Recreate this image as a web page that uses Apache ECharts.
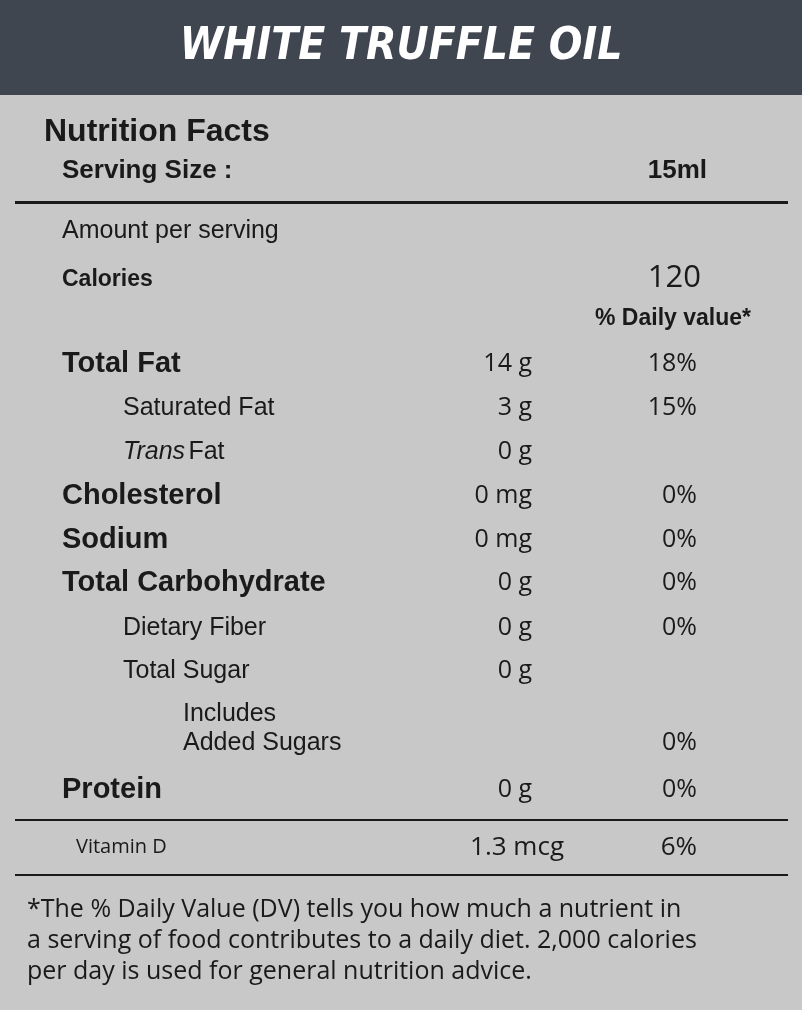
<!DOCTYPE html>
<html><head><meta charset="utf-8">
<script src="https://cdn.jsdelivr.net/npm/echarts@6/dist/echarts.min.js"></script>
<style>html,body{margin:0;padding:0;background:#c8c8c8}#c{width:802px;height:1010px}</style>
</head><body><div id="c"></div>
<script>
const title = "WHITE TRUFFLE OIL";
const servingSize = "15ml";
const calories = "120";
const nutrients = ["Total Fat","Saturated Fat","Trans Fat","Cholesterol","Sodium","Total Carbohydrate","Dietary Fiber","Total Sugar","Includes\nAdded Sugars","Protein"];
const amounts = ["14 g","3 g","0 g","0 mg","0 mg","0 g","0 g","0 g","","0 g"];
const dailyValues = ["18%","15%","","0%","0%","0%","0%","","0%","0%"];
const levels = [0,1,1,0,0,0,1,1,2,0];
const rowY = [364,408,452,496,540,583,628,671,729,790];
const vitamin = ["Vitamin D","1.3 mcg","6%"];
const footnote = ["*The % Daily Value (DV) tells you how much a nutrient in","a serving of food contributes to a daily diet. 2,000 calories","per day is used for general nutrition advice."];

const F = "'Liberation Sans', Arial, sans-serif";
const O = "'Open Sans', sans-serif";
const g = [];
function t(x,y,text,size,weight,align,extra){
  g.push({type:'text',x:x,y:y,style:Object.assign({text:text,fontSize:size,fontWeight:weight||'normal',fontFamily:F,fill:'#1a1a1a',align:align||'left',verticalAlign:'middle'},extra||{})});
}
g.push({type:'rect',shape:{x:0,y:0,width:802,height:1010},style:{fill:'#c8c8c8'}});
g.push({type:'rect',shape:{x:0,y:0,width:802,height:95},style:{fill:'#3f4650'}});
t(401,48,title,44,'bold','center',{fill:'#ffffff',fontStyle:'italic',fontFamily:"'Liberation Sans Narrow','DejaVu Sans Condensed',sans-serif"});
t(44,132,"Nutrition Facts",32,'bold');
t(62,171,"Serving Size :",26,'bold');
t(707,171,servingSize,26,'bold','right');
g.push({type:'rect',shape:{x:15,y:201,width:773,height:3},style:{fill:'#1a1a1a'}});
t(62,231,"Amount per serving",25);
t(62,280,"Calories",23,'bold');
t(701,278,calories,31,'normal','right',{fontFamily:O});
t(751,319,"% Daily value*",23,'bold','right');
nutrients.forEach((n,i)=>{
  const lv=levels[i];
  const x = lv===0?62:(lv===1?123:183);
  if(n==="Trans Fat"){
    g.push({type:'text',x:x,y:rowY[i],style:{rich:{i:{fontStyle:'italic',fontSize:25,fontFamily:F,fill:'#1a1a1a'},n:{fontSize:25,fontFamily:F,fill:'#1a1a1a'}},text:'{i|Trans} {n|Fat}',verticalAlign:'middle'}});
  } else {
    t(x,rowY[i],n,lv===0?29:25,lv===0?'bold':'normal','left',{lineHeight:29});
  }
  if(amounts[i]) t(532,rowY[i],amounts[i],25,'normal','right',{fontFamily:O});
  if(dailyValues[i]) t(697,i===8?743:rowY[i],dailyValues[i],25,'normal','right',{fontFamily:O});
});
g.push({type:'rect',shape:{x:15,y:819,width:773,height:2},style:{fill:'#1a1a1a'}});
t(76,847,vitamin[0],20,'normal','left',{fontFamily:O});
t(564,848,vitamin[1],26,'normal','right',{fontFamily:O});
t(697,848,vitamin[2],26,'normal','right',{fontFamily:O});
g.push({type:'rect',shape:{x:15,y:874,width:773,height:2},style:{fill:'#1a1a1a'}});
footnote.forEach((l,i)=>t(27,910+i*31,l,25,'normal','left',{fontFamily:O}));
const ch = echarts.init(document.getElementById('c'));
ch.setOption({animation:false,graphic:g});
</script></body></html>
